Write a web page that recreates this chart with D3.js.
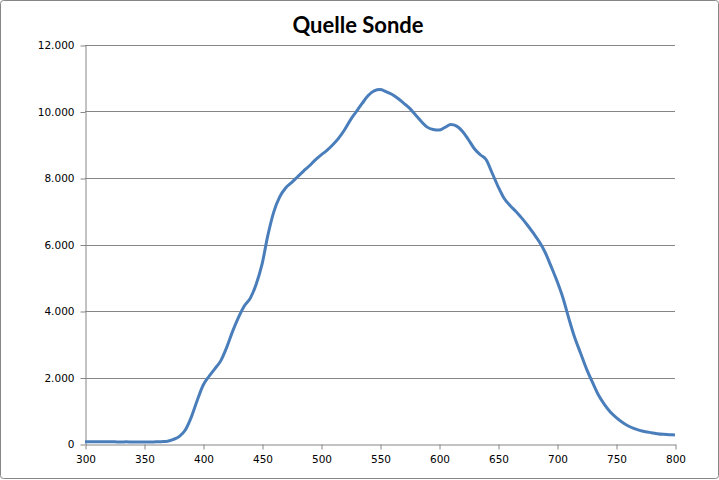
<!DOCTYPE html>
<html>
<head>
<meta charset="utf-8">
<script src="https://cdn.jsdelivr.net/npm/d3@7"></script>
<style>
  body { margin: 0; background: #fff; }
  svg { display: block; }
</style>
</head>
<body>
<div id="chart"></div>
<script>
const width = 719, height = 480;

// wavelength (nm) in 5 nm steps
const wavelengths = d3.range(300, 801, 5);
// intensity, one value per wavelength
const intensities = [
  70, 70, 65, 70, 65, 65, 60, 65, 60, 60,
  60, 60, 65, 70, 85, 140, 230, 420, 800, 1300,
  1760, 2030, 2260, 2500, 2900, 3380, 3800, 4150, 4380, 4800,
  5400, 6280, 6980, 7430, 7700, 7860, 8030, 8200, 8360, 8540,
  8690, 8830, 9000, 9200, 9450, 9750, 10000, 10250, 10480, 10620,
  10660, 10600, 10520, 10400, 10250, 10100, 9900, 9700, 9530, 9460,
  9440, 9520, 9610, 9560, 9400, 9150, 8880, 8700, 8550, 8150,
  7750, 7400, 7180, 7000, 6800, 6580, 6340, 6080, 5760, 5340,
  4900, 4400, 3780, 3200, 2730, 2260, 1860, 1480, 1200, 970,
  800, 660, 550, 470, 410, 370, 340, 310, 290, 280,
  270
];
const xTicks = [300, 350, 400, 450, 500, 550, 600, 650, 700, 750, 800];
const yTicks = [0, 2000, 4000, 6000, 8000, 10000, 12000];

const data = wavelengths.map((w, i) => ({ w: w, v: intensities[i] }));

const margin = { top: 45, right: 44, bottom: 36, left: 85 };
const grey = "#868686";

const svg = d3.select("#chart").append("svg")
    .attr("width", width)
    .attr("height", height);

// outer frame
svg.append("rect")
    .attr("x", 0.5).attr("y", 0.5)
    .attr("width", width - 1).attr("height", height - 2)
    .attr("rx", 3)
    .attr("fill", "#fff")
    .attr("stroke", grey);

const x = d3.scaleLinear().domain([300, 800]).range([margin.left, width - margin.right]);
const y = d3.scaleLinear().domain([0, 12000]).range([height - margin.bottom, margin.top]);

// gridlines
svg.append("g")
    .selectAll("line")
    .data(yTicks.slice(1))
    .enter().append("line")
    .attr("x1", x(300)).attr("x2", x(800))
    .attr("y1", d => Math.round(y(d)) + 0.5)
    .attr("y2", d => Math.round(y(d)) + 0.5)
    .attr("stroke", grey);

const fmt = d => d3.format(",")(d).replace(/,/g, ".");

// y axis
const yAxis = svg.append("g")
    .attr("transform", `translate(${margin.left + 0.5},0.5)`)
    .call(d3.axisLeft(y).tickValues(yTicks).tickFormat(fmt).tickSize(5).tickSizeOuter(0).tickPadding(6));

// x axis
const xAxis = svg.append("g")
    .attr("transform", `translate(0.5,${Math.round(y(0)) + 0.5})`)
    .call(d3.axisBottom(x).tickValues(xTicks).tickSize(5).tickSizeOuter(0).tickPadding(6));

[yAxis, xAxis].forEach(g => {
    g.select(".domain").attr("stroke", grey);
    g.selectAll(".tick line").attr("stroke", grey);
    g.selectAll(".tick text")
        .attr("fill", "#000")
        .style("font-family", "'DejaVu Sans', Verdana, sans-serif")
        .style("font-size", "10.5px");
});

// the spectrum
const line = d3.line()
    .x(d => x(d.w))
    .y(d => y(d.v))
    .curve(d3.curveMonotoneX);

svg.append("path")
    .datum(data)
    .attr("fill", "none")
    .attr("stroke", "#4a7ebb")
    .attr("stroke-width", 3)
    .attr("stroke-linejoin", "round")
    .attr("d", line);

// title
svg.append("text")
    .attr("x", 358)
    .attr("y", 33)
    .attr("text-anchor", "middle")
    .style("font-family", "Lato, 'Open Sans', sans-serif")
    .style("font-weight", "bold")
    .style("font-size", "22px")
    .text("Quelle Sonde");
</script>
</body>
</html>
